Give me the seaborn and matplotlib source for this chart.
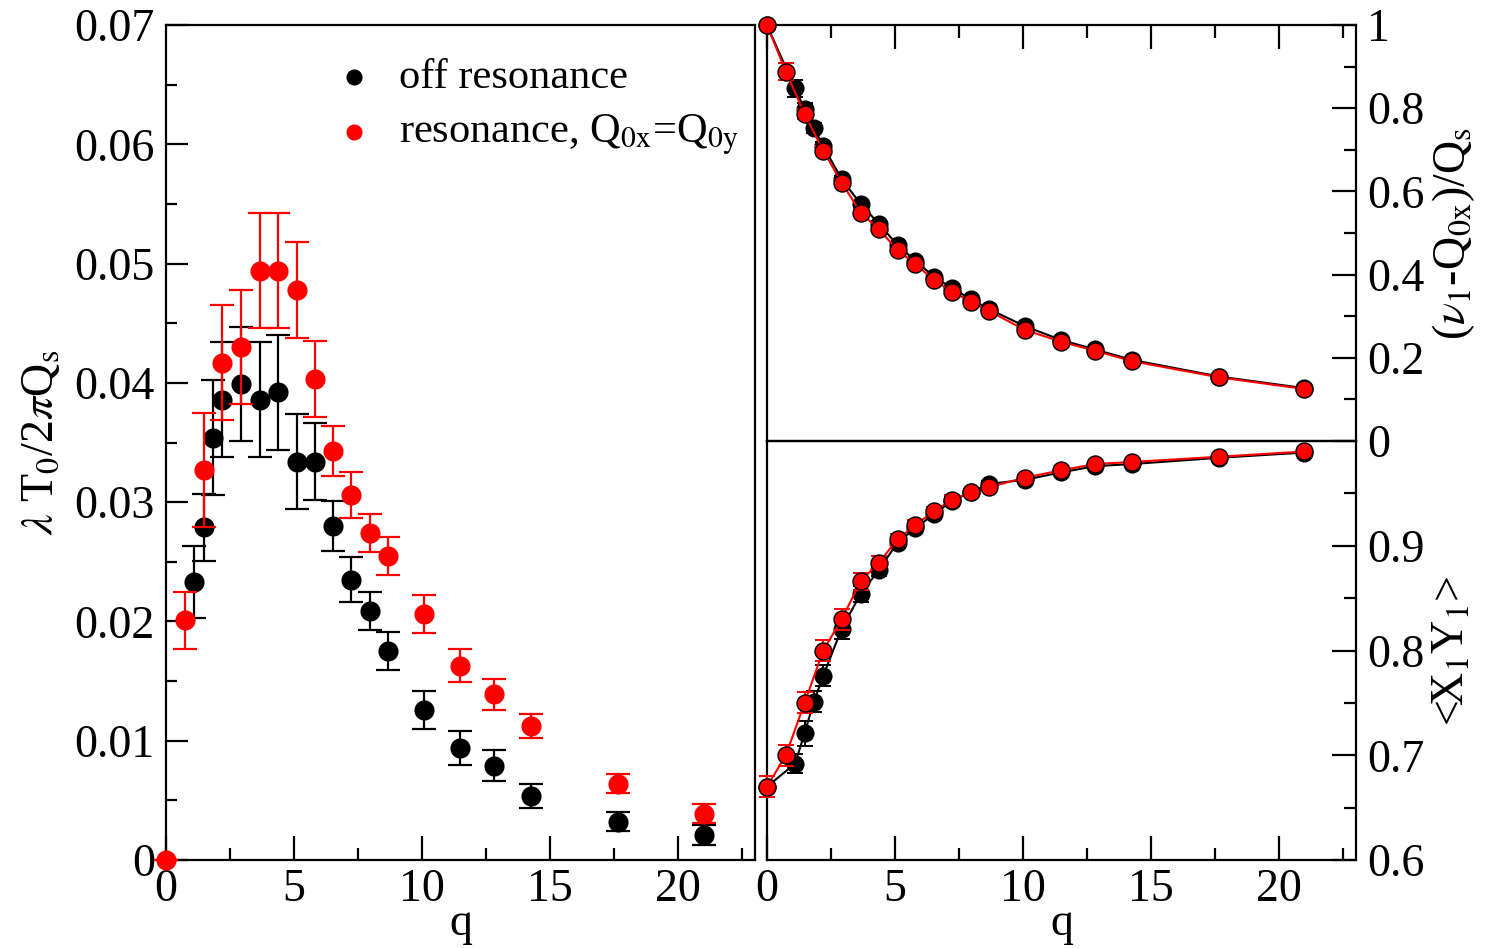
import numpy as np
import pandas as pd
import matplotlib
matplotlib.use("Agg")
import matplotlib.pyplot as plt
import seaborn as sns
from matplotlib.ticker import MultipleLocator, FixedLocator, FuncFormatter

# ---------------- data ----------------
# left panel: growth rate lambda T0 / 2 pi Qs vs q
q_off = [1.1, 1.47, 1.83, 2.2, 2.92, 3.66, 4.37, 5.1, 5.8, 6.52, 7.24, 7.96, 8.68,
         10.07, 11.48, 12.81, 14.25, 17.66, 20.99]
lam_off = [0.0233, 0.0279, 0.0354, 0.0386, 0.0399, 0.0386, 0.0392, 0.0334, 0.0334,
           0.0280, 0.0235, 0.0209, 0.0175, 0.0126, 0.0094, 0.0079, 0.0054, 0.0032, 0.0021]
lam_off_err = [0.0030, 0.0028, 0.0048, 0.0048, 0.0048, 0.0048, 0.0048, 0.0040, 0.0032,
               0.0021, 0.0019, 0.0016, 0.0016, 0.0016, 0.0014, 0.0013, 0.0010, 0.0008, 0.0008]

q_res = [0.0, 0.74, 1.47, 2.2, 2.92, 3.66, 4.37, 5.1, 5.8, 6.52, 7.24, 7.96, 8.68,
         10.07, 11.48, 12.81, 14.25, 17.66, 20.99]
lam_res = [0.0, 0.0201, 0.0327, 0.0417, 0.0430, 0.0494, 0.0494, 0.0478, 0.0403, 0.0343,
           0.0306, 0.0274, 0.0255, 0.0206, 0.0163, 0.0139, 0.0112, 0.0064, 0.0039]
lam_res_err = [0.0, 0.0024, 0.0048, 0.0048, 0.0048, 0.0048, 0.0048, 0.0040, 0.0032,
               0.0021, 0.0019, 0.0016, 0.0016, 0.0016, 0.0014, 0.0013, 0.0010, 0.0008, 0.0008]

# right panels
q_off_r = [0.0, 1.1, 1.47, 1.83, 2.2, 2.92, 3.66, 4.37, 5.1, 5.8, 6.52, 7.24, 7.96, 8.68,
           10.07, 11.48, 12.81, 14.25, 17.66, 20.99]
nu_off = [1.0, 0.848, 0.798, 0.752, 0.709, 0.629, 0.570, 0.522, 0.471, 0.433, 0.395,
          0.367, 0.341, 0.317, 0.276, 0.243, 0.220, 0.195, 0.155, 0.127]
nu_off_err = [0.0, 0.02, 0.015, 0.012, 0.01, 0.008, 0.008, 0.006, 0.006, 0.005, 0.005,
              0.005, 0.004, 0.004, 0.004, 0.003, 0.003, 0.003, 0.002, 0.002]
xy_off = [0.670, 0.692, 0.721, 0.751, 0.776, 0.821, 0.854, 0.877, 0.903, 0.917, 0.930,
          0.943, 0.951, 0.959, 0.963, 0.970, 0.976, 0.978, 0.984, 0.989]
xy_off_err = [0.0, 0.009, 0.012, 0.01, 0.01, 0.01, 0.008, 0.006, 0.005, 0.005, 0.004,
              0.004, 0.003, 0.003, 0.003, 0.002, 0.002, 0.002, 0.002, 0.002]

nu_res = [1.0, 0.888, 0.786, 0.698, 0.621, 0.549, 0.509, 0.459, 0.425, 0.387, 0.359,
          0.335, 0.3125, 0.267, 0.239, 0.217, 0.192, 0.153, 0.125]
nu_res_err = [0.0, 0.02, 0.012, 0.01, 0.008, 0.008, 0.006, 0.006, 0.005, 0.005, 0.005,
              0.004, 0.004, 0.004, 0.003, 0.003, 0.003, 0.002, 0.002]
xy_res = [0.670, 0.700, 0.750, 0.800, 0.830, 0.866, 0.884, 0.906, 0.920, 0.933, 0.944,
          0.951, 0.956, 0.965, 0.972, 0.978, 0.980, 0.985, 0.990]
xy_res_err = [0.01, 0.01, 0.01, 0.01, 0.01, 0.008, 0.006, 0.005, 0.005, 0.004, 0.004,
              0.003, 0.003, 0.003, 0.002, 0.002, 0.002, 0.002, 0.002]

label_off = "off resonance"
label_res = r"resonance, Q$_{0\mathrm{x}}$=Q$_{0\mathrm{y}}$"

# ---------------- style ----------------
sns.set_theme(style="white")
plt.rcParams['font.family'] = ['Liberation Serif', 'DejaVu Serif']
plt.rcParams['mathtext.fontset'] = 'stix'
plt.rcParams['axes.edgecolor'] = 'black'
plt.rcParams['axes.linewidth'] = 1.6
plt.rcParams['text.color'] = 'black'
plt.rcParams['axes.labelcolor'] = 'black'
plt.rcParams['xtick.color'] = 'black'
plt.rcParams['ytick.color'] = 'black'

FS = 33
RED = '#ff0000'

fig = plt.figure(figsize=(14.86, 9.48), dpi=100)
axL = fig.add_axes([0.1117, 0.0928, 0.3964, 0.8808])
axT = fig.add_axes([0.5161, 0.5348, 0.3964, 0.4388])
axB = fig.add_axes([0.5161, 0.0928, 0.3964, 0.4420])
axT.patch.set_alpha(0)
axB.patch.set_alpha(0)

# ---------------- left panel ----------------
axL.errorbar(q_off, lam_off, yerr=lam_off_err, fmt='none', ecolor='black',
             elinewidth=1.6, capsize=8.5, capthick=1.6, zorder=2, clip_on=False)
sns.scatterplot(x=q_off, y=lam_off, color='black', s=210, linewidth=0,
                ax=axL, zorder=3, clip_on=False, label=label_off)
axL.errorbar(q_res, lam_res, yerr=lam_res_err, fmt='none', ecolor=RED,
             elinewidth=1.6, capsize=8.5, capthick=1.6, zorder=4, clip_on=False)
sns.scatterplot(x=q_res, y=lam_res, color=RED, s=210, linewidth=0,
                ax=axL, zorder=5, clip_on=False, label=label_res)

axL.set_xlim(0, 23)
axL.set_ylim(0, 0.07)
axL.xaxis.set_major_locator(MultipleLocator(5))
axL.xaxis.set_minor_locator(MultipleLocator(2.5))
axL.yaxis.set_major_locator(MultipleLocator(0.01))
axL.yaxis.set_minor_locator(MultipleLocator(0.005))
axL.yaxis.set_major_formatter(FuncFormatter(lambda v, p: "0" if abs(v) < 1e-9 else f"{v:.2f}"))
axL.xaxis.set_major_formatter(FuncFormatter(lambda v, p: f"{v:g}"))
axL.tick_params(which='both', direction='in', bottom=True, left=True, top=False, right=False,
                labelsize=FS, width=1.6)
axL.tick_params(axis='y', which='major', length=16, pad=8)
axL.tick_params(axis='y', which='minor', length=8)
axL.tick_params(axis='x', which='major', length=17, pad=6)
axL.tick_params(axis='x', which='minor', length=9)
axL.set_xlabel("q", fontsize=FS, labelpad=-6)
axL.set_ylabel(r"$\lambda$ T$_0$/2$\pi$Q$_\mathrm{s}$", fontsize=FS, labelpad=8)
leg = axL.legend(loc='upper left', bbox_to_anchor=(0.262, 0.985), frameon=False,
                 fontsize=30.5, handlelength=0.6, handletextpad=0.75, labelspacing=0.35,
                 borderpad=0, markerscale=0.8)
leg.set_zorder(20)

# ---------------- right top panel ----------------
axT.errorbar(q_off_r, nu_off, yerr=nu_off_err, fmt='none', ecolor='black',
             elinewidth=1.4, capsize=6, capthick=1.4, zorder=2, clip_on=False)
sns.lineplot(x=q_off_r, y=nu_off, color='black', linewidth=1.5, estimator=None,
             sort=False, ax=axT, zorder=2)
sns.scatterplot(x=q_off_r, y=nu_off, color='black', s=170, linewidth=0,
                ax=axT, zorder=3, clip_on=False)
axT.errorbar(q_res, nu_res, yerr=nu_res_err, fmt='none', ecolor=RED,
             elinewidth=1.4, capsize=6, capthick=1.4, zorder=4, clip_on=False)
sns.lineplot(x=q_res, y=nu_res, color=RED, linewidth=1.5, estimator=None,
             sort=False, ax=axT, zorder=4)
sns.scatterplot(x=q_res, y=nu_res, color=RED, s=150, edgecolor='black', linewidth=1.0,
                ax=axT, zorder=5, clip_on=False)
axT.set_xlim(0, 23)
axT.set_ylim(0, 1)
axT.xaxis.set_major_locator(MultipleLocator(5))
axT.xaxis.set_minor_locator(MultipleLocator(2.5))
axT.yaxis.set_major_locator(MultipleLocator(0.2))
axT.yaxis.set_minor_locator(MultipleLocator(0.1))
axT.yaxis.set_major_formatter(FuncFormatter(lambda v, p: f"{v:g}"))
axT.tick_params(which='both', direction='in', bottom=False, left=False, top=True, right=True,
                labelbottom=False, labelleft=False, labeltop=False, labelright=True,
                labelsize=FS, width=1.6)
axT.tick_params(which='major', length=17, pad=8)
axT.tick_params(which='minor', length=9)
axT.yaxis.set_label_position('right')
axT.set_ylabel(r"($\nu_1$-Q$_{0\mathrm{x}}$)/Q$_\mathrm{s}$", fontsize=FS, labelpad=4)
axT.set_xlabel("")

# ---------------- right bottom panel ----------------
axB.errorbar(q_off_r, xy_off, yerr=xy_off_err, fmt='none', ecolor='black',
             elinewidth=1.4, capsize=6, capthick=1.4, zorder=2, clip_on=False)
sns.lineplot(x=q_off_r, y=xy_off, color='black', linewidth=1.5, estimator=None,
             sort=False, ax=axB, zorder=2)
sns.scatterplot(x=q_off_r, y=xy_off, color='black', s=170, linewidth=0,
                ax=axB, zorder=3, clip_on=False)
axB.errorbar(q_res, xy_res, yerr=xy_res_err, fmt='none', ecolor=RED,
             elinewidth=1.4, capsize=6, capthick=1.4, zorder=4, clip_on=False)
sns.lineplot(x=q_res, y=xy_res, color=RED, linewidth=1.5, estimator=None,
             sort=False, ax=axB, zorder=4)
sns.scatterplot(x=q_res, y=xy_res, color=RED, s=150, edgecolor='black', linewidth=1.0,
                ax=axB, zorder=5, clip_on=False)
axB.set_xlim(0, 23)
axB.set_ylim(0.6, 1.0)
axB.xaxis.set_major_locator(MultipleLocator(5))
axB.xaxis.set_minor_locator(MultipleLocator(2.5))
axB.yaxis.set_major_locator(FixedLocator([0.6, 0.7, 0.8, 0.9]))
axB.yaxis.set_minor_locator(FixedLocator([0.65, 0.75, 0.85, 0.95]))
axB.yaxis.set_major_formatter(FuncFormatter(lambda v, p: f"{v:g}"))
axB.xaxis.set_major_formatter(FuncFormatter(lambda v, p: f"{v:g}"))
axB.tick_params(which='both', direction='in', bottom=True, left=False, top=False, right=True,
                labelbottom=True, labelleft=False, labelright=True,
                labelsize=FS, width=1.6)
axB.tick_params(which='major', length=17)
axB.tick_params(axis='y', which='major', pad=8)
axB.tick_params(axis='x', which='major', pad=6)
axB.tick_params(which='minor', length=9)
axB.yaxis.set_label_position('right')
axB.set_ylabel(r"<X$_1$Y$_1$>", fontsize=FS, labelpad=4)
axB.set_xlabel("q", fontsize=FS, labelpad=-6)

fig.savefig("out.png", dpi=100)
